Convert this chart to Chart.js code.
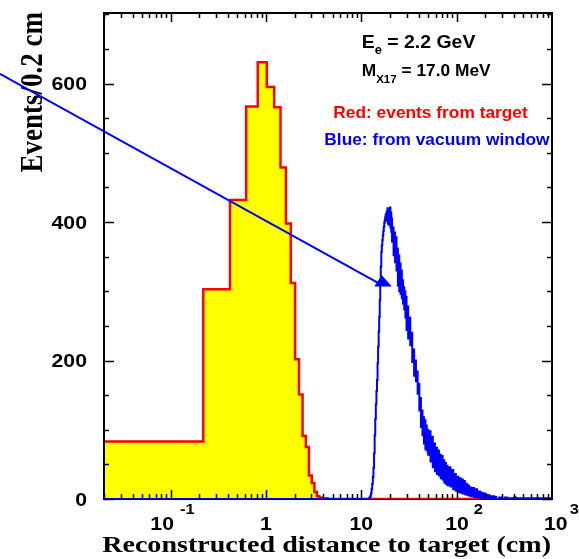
<!DOCTYPE html>
<html lang="en">
<head>
<meta charset="UTF-8">
<title>Reconstructed distance to target</title>
<script src="https://cdn.jsdelivr.net/npm/chart.js@4"></script>
<style>
  body { margin: 0; background: #fff; }
  .master { position: relative; width: 579px; height: 559px; }
</style>
</head>
<body>
<div class="master"><canvas id="myChart"></canvas></div>
<script>
// events from target, 0.2 cm bins (low edge of each bin)
const redEdges  = [0, 0.22, 0.42, 0.62, 0.82, 1.02, 1.22, 1.42, 1.62, 1.82, 2.02, 2.22, 2.42, 2.62, 2.82, 3.02, 3.22, 3.42, 3.62, 3.82, 4.02, 4.22, 4.42];
const redCounts = [83, 303, 432, 567, 631, 595, 566, 479, 398, 312, 202, 151, 91, 75, 34, 23, 10, 4, 2, 1, 1, 1, 0];

// events from the vacuum window (low edge of each bin)
const blueEdges = [
  11.8, 12.0, 12.2, 12.4, 12.6, 12.8, 13.0, 13.2, 13.4, 13.6, 13.8, 14.0, 14.2, 14.4, 14.6, 14.8,
  15.0, 15.2, 15.4, 15.6, 15.8, 16.0, 16.2, 16.4, 16.6, 16.8, 17.0, 17.2, 17.4, 17.6, 17.8,
  18.0, 18.2, 18.4, 18.6, 18.8, 19.0, 19.2, 19.4, 19.6, 19.8, 20.0, 20.2, 20.4, 20.6, 20.8, 21.0,
  21.4, 21.8, 22.2, 22.6, 23.0, 23.4, 23.8, 24.2, 24.6, 25.0, 25.4, 25.8, 26.2, 26.6, 27.0, 27.4,
  27.8, 28.2, 28.6, 29.0, 29.4, 29.8,
  30.2, 31.0, 31.8, 32.6, 33.4, 34.2, 35.0, 35.8, 36.6, 37.4, 38.2, 39.0, 39.8, 40.6, 41.4, 42.2,
  43.0, 43.8, 44.6, 45.4, 46.2, 47.0, 47.8, 48.6, 49.4,
  50.2, 51.7, 53.2, 54.7, 56.2, 57.7, 59.2, 60.7, 62.2, 63.7, 65.2, 66.7, 68.2, 69.7, 71.2, 72.7,
  74.2, 75.7, 77.2, 78.7,
  80, 83, 86, 89, 92, 95, 98, 101, 104, 107, 110, 113, 116, 119, 122, 125, 128, 131, 134, 137,
  140, 146, 152, 158, 164, 170, 176, 182, 188, 194, 200, 206, 212, 218, 224, 230, 236, 242, 248, 254,
  260, 280, 300, 320, 340, 360, 380, 400, 420, 440, 460, 480, 500, 520, 540, 560, 580, 600, 620, 640,
  660, 680, 700, 720, 740, 760, 780, 800, 820, 840, 860, 880, 900, 920, 940, 960, 980, 1000
];
const blueCounts = [
  0, 1, 2, 4, 8, 14, 22, 32, 45, 66, 92, 116, 137, 156, 172, 196,
  220, 242, 263, 287, 312, 336, 357, 366, 374, 381, 387, 393, 399, 403, 407,
  411, 402, 415, 405, 420, 398, 413, 396, 416, 400, 421, 392, 414, 386, 405, 372,
  392, 352, 385, 342, 378, 330, 362, 308, 352, 300, 340, 296, 330, 290, 316, 282,
  306, 274, 300, 262, 292, 244,
  278, 232, 262, 222, 240, 198, 216, 178, 200, 170, 184, 152, 166, 128, 146, 104,
  128, 92, 118, 80, 114, 72, 106, 70, 100,
  64, 98, 54, 90, 46, 80, 40, 74, 36, 70, 34, 64, 30, 62, 28, 56,
  24, 52, 22, 48,
  20, 46, 18, 42, 14, 36, 12, 32, 10, 30, 9, 28, 8, 26, 7, 22, 6, 20, 5, 17,
  4, 16, 3, 14, 2, 11, 2, 9, 1, 8, 1, 6, 0, 5, 1, 4, 0, 4, 0, 3,
  0, 2, 0, 2, 0, 1, 0, 2, 0, 1, 0, 1, 0, 1, 0, 1, 0, 1, 0, 1,
  0, 1, 0, 1, 0, 1, 0, 1, 0, 1, 0, 1, 0, 1, 0, 1, 0, 0
];

const yTickValues = [0, 200, 400, 600];
const xTickValues = [0.1, 1, 10, 100, 1000];
const xTickBase   = ['10', '1', '10', '10', '10'];
const xTickExp    = ['-1', '', '', '2', '3'];

// arrow in data coordinates (start lies left of the frame)
const arrowFrom = [0.00162, 614];
const arrowTo   = [16.0, 310];

const X_MIN = 0.02, X_MAX = 1000, Y_MAX = 702;

const redPts = redEdges.map((e, i) => ({ x: Math.max(e, X_MIN), y: redCounts[i] }));
redPts.push({ x: X_MAX, y: 0 });
const bluePts = [{ x: X_MIN, y: 0 }].concat(blueEdges.map((e, i) => ({ x: e, y: blueCounts[i] })));

const SANS = '"Liberation Sans", Arial, Helvetica, sans-serif';
const SERIF = '"Liberation Serif", "Times New Roman", serif';

// draw text squeezed/stretched horizontally, returns drawn width
function drawText(ctx, text, x, y, font, sx, align, color) {
    ctx.save();
    ctx.font = font;
    ctx.fillStyle = color || '#000';
    ctx.textAlign = align || 'left';
    ctx.textBaseline = 'alphabetic';
    ctx.translate(x, y);
    ctx.scale(sx, 1);
    ctx.fillText(text, 0, 0);
    const w = ctx.measureText(text).width * sx;
    ctx.restore();
    return w;
}

const decor = {
    id: 'decor',
    beforeDatasetsDraw(chart) {
        const { ctx, chartArea: a } = chart;
        ctx.save();
        ctx.strokeStyle = '#000';
        ctx.lineWidth = 2;
        ctx.strokeRect(a.left, a.top, a.right - a.left, a.bottom - a.top);
        ctx.restore();
    },
    afterDatasetsDraw(chart) {
        const { ctx, chartArea: a } = chart;
        const xs = chart.scales.x, ys = chart.scales.y;
        ctx.save();
        ctx.strokeStyle = '#000';
        ctx.lineWidth = 2;
        ctx.beginPath();
        ctx.moveTo(a.left, a.bottom + 1);
        ctx.lineTo(a.left, a.top);
        ctx.lineTo(a.right, a.top);
        ctx.lineTo(a.right, a.bottom + 1);
        ctx.stroke();

        // ticks, pointing into the frame on all four sides
        ctx.lineWidth = 1.5;
        ctx.beginPath();
        for (let d = -2; d <= 2; d++) {
            for (let k = 1; k <= 9; k++) {
                const v = k * Math.pow(10, d);
                if (v < X_MIN * 0.999 || v > X_MAX) continue;
                const px = Math.round(xs.getPixelForValue(v)) + 0.5;
                const len = k === 1 ? 9 : 5;
                ctx.moveTo(px, a.bottom); ctx.lineTo(px, a.bottom - len);
                ctx.moveTo(px, a.top); ctx.lineTo(px, a.top + len);
            }
        }
        for (let v = 0; v <= Y_MAX; v += 50) {
            const py = Math.round(ys.getPixelForValue(v)) + 0.5;
            const len = v % 200 === 0 ? 10 : 5;
            ctx.moveTo(a.left, py); ctx.lineTo(a.left + len, py);
            ctx.moveTo(a.right, py); ctx.lineTo(a.right - len, py);
        }
        ctx.stroke();
        ctx.restore();

        // y tick labels
        yTickValues.forEach(v => {
            drawText(ctx, String(v), a.left - 17, ys.getPixelForValue(v) + 6.5, 'bold 18px ' + SANS, 1.18, 'right');
        });

        // x tick labels, 10 with a raised exponent
        const baseFont = 'bold 18px ' + SANS, expFont = 'bold 15px ' + SANS;
        const shift = [-20.3, 0, 0, -11.5, -8];
        const gap = [6, 0, 0, 5, 2];
        xTickValues.forEach((v, i) => {
            const px = xs.getPixelForValue(v);
            if (!xTickExp[i]) {
                drawText(ctx, xTickBase[i], px, 530, baseFont, 1.18, 'center');
            } else {
                const w = drawText(ctx, xTickBase[i], px + shift[i], 530, baseFont, 1.18, 'left');
                drawText(ctx, xTickExp[i], px + shift[i] + w + gap[i], 514, expFont, 1.1, 'left');
            }
        });

        // axis titles
        drawText(ctx, 'Reconstructed distance to target (cm)', a.right - 1, 551.5, 'bold 23px ' + SERIF, 1.22, 'right');
        ctx.save();
        ctx.translate(42, 12);
        ctx.rotate(-Math.PI / 2);
        ctx.scale(1, 1.2);
        ctx.font = 'bold 27px ' + SERIF;
        ctx.fillStyle = '#000';
        ctx.textAlign = 'right';
        ctx.fillText('Events/0.2 cm', 0, 0);
        ctx.restore();

        // labels inside the frame
        let x = 361.7;
        x += drawText(ctx, 'E', x, 48.3, 'bold 18px ' + SANS, 1.08);
        x += drawText(ctx, 'e', x, 53.5, 'bold 12px ' + SANS, 1.08);
        drawText(ctx, ' = 2.2 GeV', x, 48.3, 'bold 18px ' + SANS, 1.08);
        x = 361.7;
        x += drawText(ctx, 'M', x, 76, 'bold 16.5px ' + SANS, 1.05);
        x += drawText(ctx, 'X17', x, 82.5, 'bold 11px ' + SANS, 1.05);
        drawText(ctx, ' = 17.0 MeV', x, 76, 'bold 16.5px ' + SANS, 1.05);
        drawText(ctx, 'Red: events from target', 333.3, 118.3, 'bold 16.5px ' + SANS, 1.05, 'left', '#ff0000');
        drawText(ctx, 'Blue: from vacuum window', 324.3, 145, 'bold 16.5px ' + SANS, 1.05, 'left', '#0000ff');

        // arrow
        const x0 = xs.getPixelForValue(arrowFrom[0]), y0 = ys.getPixelForValue(arrowFrom[1]);
        const x1 = xs.getPixelForValue(arrowTo[0]), y1 = ys.getPixelForValue(arrowTo[1]);
        ctx.save();
        ctx.strokeStyle = '#0000ff';
        ctx.fillStyle = '#0000ff';
        ctx.lineWidth = 2;
        ctx.beginPath();
        ctx.moveTo(x0, y0);
        ctx.lineTo(x1, y1);
        ctx.stroke();
        ctx.beginPath();
        ctx.moveTo(x1 + 1, y1 - 9.5);
        ctx.lineTo(x1 - 6.5, y1 + 2.2);
        ctx.lineTo(x1 + 11, y1 + 2.2);
        ctx.closePath();
        ctx.fill();
        ctx.restore();
    }
};

const ctx = document.getElementById('myChart').getContext('2d');
new Chart(ctx, {
    type: 'line',
    data: {
        datasets: [
            {
                label: 'Blue: from vacuum window',
                data: bluePts,
                borderColor: '#0000ff',
                borderWidth: 2,
                stepped: 'before',
                pointRadius: 0,
                fill: false,
                order: 0
            },
            {
                label: 'Red: events from target',
                data: redPts,
                borderColor: '#ff0000',
                backgroundColor: '#ffff00',
                borderWidth: 2.5,
                stepped: 'before',
                pointRadius: 0,
                fill: 'origin',
                order: 1
            }
        ]
    },
    options: {
        responsive: true,
        maintainAspectRatio: false,
        animation: false,
        layout: { padding: { left: 0, right: 27, top: 13, bottom: 0 } },
        plugins: { legend: { display: false }, tooltip: { enabled: false } },
        scales: {
            x: {
                type: 'logarithmic',
                min: X_MIN,
                max: X_MAX,
                grid: { display: false },
                border: { display: false },
                ticks: { display: false },
                afterFit: s => { s.height = 60; }
            },
            y: {
                min: 0,
                max: Y_MAX,
                grid: { display: false },
                border: { display: false },
                ticks: { display: false },
                afterFit: s => { s.width = 104; }
            }
        }
    },
    plugins: [decor]
});
</script>
</body>
</html>
